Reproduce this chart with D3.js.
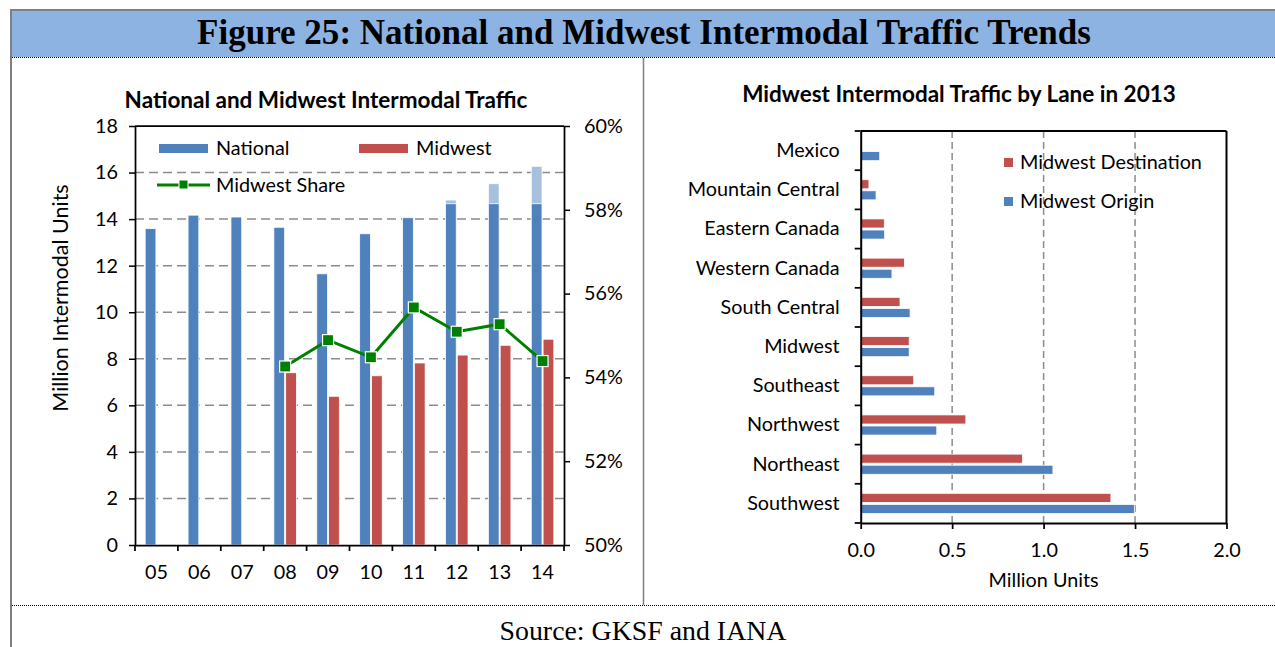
<!DOCTYPE html>
<html>
<head>
<meta charset="utf-8">
<script src="https://cdn.jsdelivr.net/npm/d3@7"></script>
<style>
  body { margin: 0; background: #fff; }
  svg { display: block; }
  .lbl { font-family: Lato, "Open Sans", sans-serif; font-size: 19.8px; fill: #000; }
  .ttl { font-family: Lato, "Open Sans", sans-serif; font-size: 22.5px; font-weight: bold; fill: #000; }
</style>
</head>
<body>
<div id="chart"></div>
<script>
// ---- data ----
var years = ["05", "06", "07", "08", "09", "10", "11", "12", "13", "14"];
var national = [13.59, 14.17, 14.09, 13.65, 11.65, 13.37, 14.06, 14.82, 15.52, 16.27];
var nationalSolid = [13.59, 14.17, 14.09, 13.65, 11.65, 13.37, 14.06, 14.66, 14.66, 14.66];
var midwest = [null, null, null, 7.40, 6.39, 7.27, 7.82, 8.16, 8.58, 8.84];
var midwestShare = [null, null, null, 54.26, 54.89, 54.48, 55.67, 55.09, 55.27, 54.39];
var leftTicks = [0, 2, 4, 6, 8, 10, 12, 14, 16, 18];
var shareTicks = [50, 52, 54, 56, 58, 60];

var lanes = ["Mexico", "Mountain Central", "Eastern Canada", "Western Canada", "South Central",
  "Midwest", "Southeast", "Northwest", "Northeast", "Southwest"];
var destination = [0, 0.045, 0.129, 0.239, 0.215, 0.265, 0.29, 0.575, 0.885, 1.368];
var origin = [0.104, 0.084, 0.131, 0.171, 0.27, 0.265, 0.405, 0.416, 1.051, 1.496];
var laneTicks = [0, 0.5, 1.0, 1.5, 2.0];

var blue = "#4f81bd", red = "#c0504d", paleBlue = "#a7c0de", green = "#008000";

var svgWidth = 1275, svgHeight = 647;
var svg = d3.select("#chart").append("svg")
  .attr("width", svgWidth)
  .attr("height", svgHeight);

// ---- page frame ----
svg.append("rect").attr("x", 11).attr("y", 10).attr("width", 1264).attr("height", 47).attr("fill", "#8db3e2");
svg.append("line").attr("x1", 10).attr("x2", 1275).attr("y1", 10).attr("y2", 10).attr("stroke", "#808080").attr("stroke-width", 2);
svg.append("line").attr("x1", 11).attr("x2", 11).attr("y1", 9).attr("y2", 647).attr("stroke", "#808080").attr("stroke-width", 2);
svg.append("line").attr("x1", 12).attr("x2", 1275).attr("y1", 57.5).attr("y2", 57.5).attr("stroke", "#000").attr("stroke-dasharray", "1,1");
svg.append("line").attr("x1", 12).attr("x2", 1275).attr("y1", 605.5).attr("y2", 605.5).attr("stroke", "#000").attr("stroke-dasharray", "1,1");
svg.append("line").attr("x1", 643.5).attr("x2", 643.5).attr("y1", 58).attr("y2", 605).attr("stroke", "#808080").attr("stroke-width", 1.5);

function fitText(sel, target) {
  var len = sel.node().getComputedTextLength();
  var fs = parseFloat(sel.style("font-size"));
  sel.style("font-size", (fs * target / len) + "px");
}

var header = svg.append("text")
  .attr("x", 644).attr("y", 44).attr("text-anchor", "middle")
  .style("font-family", "'Liberation Serif', 'DejaVu Serif', serif")
  .style("font-weight", "bold").style("font-size", "30px")
  .text("Figure 25: National and Midwest Intermodal Traffic Trends");
fitText(header, 894);

var source = svg.append("text")
  .attr("x", 643).attr("y", 640).attr("text-anchor", "middle")
  .style("font-family", "'Liberation Serif', 'DejaVu Serif', serif")
  .style("font-size", "26px")
  .text("Source: GKSF and IANA");
fitText(source, 287);

// =========================================
// Left chart: National and Midwest Intermodal Traffic
// =========================================
var L = { left: 135, right: 564, top: 126, bottom: 545 };

var x0 = d3.scaleBand().domain(years).range([L.left, L.right]);
var x1 = d3.scaleBand().domain(["national", "midwest"]).range([0, x0.bandwidth()])
  .paddingInner(0.09).paddingOuter(0.86);
var yL = d3.scaleLinear().domain([0, 18]).range([L.bottom, L.top]);
var yR = d3.scaleLinear().domain([50, 60]).range([L.bottom, L.top]);

var gL = svg.append("g");

// gridlines
gL.selectAll(".grid").data(leftTicks.filter(function(d) { return d > 0 && d < 18; }))
  .enter().append("line")
  .attr("x1", L.left).attr("x2", L.right)
  .attr("y1", function(d) { return yL(d); }).attr("y2", function(d) { return yL(d); })
  .attr("stroke", "#8c8c8c").attr("stroke-width", 1.5).attr("stroke-dasharray", "9,5");

// bars
var cols = gL.selectAll(".year").data(years).enter().append("g")
  .attr("transform", function(d) { return "translate(" + x0(d) + ",0)"; });

cols.append("rect")
  .attr("x", x1("national")).attr("width", x1.bandwidth())
  .attr("y", function(d, i) { return yL(national[i]); })
  .attr("height", function(d, i) { return yL(0) - yL(national[i]); })
  .attr("fill", paleBlue).attr("stroke", "#fff").attr("stroke-width", 0.8);

cols.append("rect")
  .attr("x", x1("national")).attr("width", x1.bandwidth())
  .attr("y", function(d, i) { return yL(nationalSolid[i]); })
  .attr("height", function(d, i) { return yL(0) - yL(nationalSolid[i]); })
  .attr("fill", blue).attr("stroke", "#fff").attr("stroke-width", 0.8);

cols.filter(function(d, i) { return midwest[i] != null; }).append("rect")
  .attr("x", x1("midwest")).attr("width", x1.bandwidth())
  .attr("y", function(d) { return yL(midwest[years.indexOf(d)]); })
  .attr("height", function(d) { return yL(0) - yL(midwest[years.indexOf(d)]); })
  .attr("fill", red).attr("stroke", "#fff").attr("stroke-width", 0.8);

// frame + axes
gL.append("line").attr("x1", L.left).attr("x2", L.right).attr("y1", L.top).attr("y2", L.top)
  .attr("stroke", "#000").attr("stroke-width", 1.75);

var leftAxis = d3.axisLeft(yL).tickValues(leftTicks).tickSize(6).tickSizeOuter(0).tickPadding(11);
var gLy = gL.append("g").attr("transform", "translate(" + L.left + ",0)").call(leftAxis);
var rightAxis = d3.axisRight(yR).tickValues(shareTicks).tickSize(6).tickSizeOuter(0).tickPadding(14)
  .tickFormat(function(d) { return d + "%"; });
var gLr = gL.append("g").attr("transform", "translate(" + L.right + ",0)").call(rightAxis);

var bottomAxis = d3.axisBottom(x0).tickSize(0).tickPadding(19.5);
var gLx = gL.append("g").attr("transform", "translate(0," + L.bottom + ")").call(bottomAxis);
gLx.selectAll(".bound").data(years.concat(["end"])).enter().append("line")
  .attr("x1", function(d) { return d === "end" ? L.right : x0(d); })
  .attr("x2", function(d) { return d === "end" ? L.right : x0(d); })
  .attr("y1", 0).attr("y2", 6).attr("stroke", "#000").attr("stroke-width", 1.75);

[gLy, gLr, gLx].forEach(function(g) {
  g.select(".domain").attr("stroke", "#000").attr("stroke-width", 1.75);
  g.selectAll(".tick line").attr("stroke", "#000").attr("stroke-width", 1.5);
  g.selectAll("text").attr("class", "lbl").attr("fill", "#000");
});

// share line
var shareIdx = d3.range(years.length).filter(function(i) { return midwestShare[i] != null; });
var line = d3.line()
  .x(function(i) { return x0(years[i]) + x0.bandwidth() / 2; })
  .y(function(i) { return yR(midwestShare[i]); });
gL.append("path").datum(shareIdx).attr("d", line)
  .attr("fill", "none").attr("stroke", green).attr("stroke-width", 3);
gL.selectAll(".mk").data(shareIdx).enter().append("rect")
  .attr("x", function(i) { return x0(years[i]) + x0.bandwidth() / 2 - 5.5; })
  .attr("y", function(i) { return yR(midwestShare[i]) - 5.5; })
  .attr("width", 11).attr("height", 11)
  .attr("fill", green).attr("stroke", "#fff").attr("stroke-width", 1.2);

// titles
gL.append("text").attr("class", "ttl").attr("x", 326).attr("y", 108).attr("text-anchor", "middle")
  .text("National and Midwest Intermodal Traffic");
gL.append("text").attr("class", "lbl").attr("text-anchor", "middle")
  .style("font-size", "21.5px")
  .attr("transform", "translate(68,298) rotate(-90)")
  .text("Million Intermodal Units");

// legend
gL.append("rect").attr("x", 159).attr("y", 144).attr("width", 49).attr("height", 9).attr("fill", blue);
gL.append("text").attr("class", "lbl").attr("x", 216).attr("y", 155).text("National");
gL.append("rect").attr("x", 359).attr("y", 144).attr("width", 49).attr("height", 9).attr("fill", red);
gL.append("text").attr("class", "lbl").attr("x", 416).attr("y", 155).text("Midwest");
gL.append("line").attr("x1", 157).attr("x2", 210).attr("y1", 185).attr("y2", 185)
  .attr("stroke", green).attr("stroke-width", 3);
gL.append("rect").attr("x", 179).attr("y", 180).attr("width", 9).attr("height", 9)
  .attr("fill", green).attr("stroke", "#fff").attr("stroke-width", 1);
gL.append("text").attr("class", "lbl").attr("x", 216).attr("y", 192).text("Midwest Share");

// =========================================
// Right chart: Midwest Intermodal Traffic by Lane in 2013
// =========================================
var R = { left: 860.7, right: 1226.5, top: 131, bottom: 523 };
var yB = d3.scaleBand().domain(lanes).range([R.top, R.bottom]);
var yB1 = d3.scaleBand().domain(["dest", "orig"]).range([0, yB.bandwidth()])
  .paddingInner(0.18).paddingOuter(0.86);
var xU = d3.scaleLinear().domain([0, 2]).range([R.left, R.right]);

var gR = svg.append("g");

gR.selectAll(".vgrid").data(laneTicks.filter(function(d) { return d > 0 && d < 2; }))
  .enter().append("line")
  .attr("x1", function(d) { return xU(d); }).attr("x2", function(d) { return xU(d); })
  .attr("y1", R.top).attr("y2", R.bottom)
  .attr("stroke", "#8c8c8c").attr("stroke-width", 1.5).attr("stroke-dasharray", "7,4");

var rows = gR.selectAll(".lane").data(lanes).enter().append("g")
  .attr("transform", function(d) { return "translate(0," + yB(d) + ")"; });
rows.append("rect")
  .attr("x", xU(0)).attr("y", yB1("dest")).attr("height", yB1.bandwidth())
  .attr("width", function(d, i) { return xU(destination[i]) - xU(0); })
  .attr("fill", red).attr("stroke", "#fff").attr("stroke-width", 0.8);
rows.append("rect")
  .attr("x", xU(0)).attr("y", yB1("orig")).attr("height", yB1.bandwidth())
  .attr("width", function(d, i) { return xU(origin[i]) - xU(0); })
  .attr("fill", blue).attr("stroke", "#fff").attr("stroke-width", 0.8);

gR.append("line").attr("x1", R.left).attr("x2", R.right).attr("y1", R.top).attr("y2", R.top)
  .attr("stroke", "#000").attr("stroke-width", 2);
gR.append("line").attr("x1", R.right).attr("x2", R.right).attr("y1", R.top).attr("y2", R.bottom)
  .attr("stroke", "#000").attr("stroke-width", 2);

var laneAxis = d3.axisLeft(yB).tickSize(0).tickPadding(21);
var gRy = gR.append("g").attr("transform", "translate(" + R.left + ",0)").call(laneAxis);
gRy.selectAll(".bound").data(lanes.concat(["end"])).enter().append("line")
  .attr("y1", function(d) { return d === "end" ? R.bottom : yB(d); })
  .attr("y2", function(d) { return d === "end" ? R.bottom : yB(d); })
  .attr("x1", -6).attr("x2", 0).attr("stroke", "#000").attr("stroke-width", 1.75);

var unitAxis = d3.axisBottom(xU).tickValues(laneTicks).tickFormat(d3.format(".1f"))
  .tickSize(6).tickSizeOuter(0).tickPadding(14);
var gRx = gR.append("g").attr("transform", "translate(0," + R.bottom + ")").call(unitAxis);

[gRy, gRx].forEach(function(g) {
  g.select(".domain").attr("stroke", "#000").attr("stroke-width", 2);
  g.selectAll(".tick line").attr("stroke", "#000").attr("stroke-width", 1.75);
  g.selectAll("text").attr("class", "lbl").attr("fill", "#000");
});

gR.append("text").attr("class", "ttl").attr("x", 959).attr("y", 102).attr("text-anchor", "middle")
  .text("Midwest Intermodal Traffic by Lane in 2013");
gR.append("text").attr("class", "lbl").attr("x", xU(1)).attr("y", 587).attr("text-anchor", "middle")
  .text("Million Units");

// legend
gR.append("rect").attr("x", 1004).attr("y", 158).attr("width", 9).attr("height", 9).attr("fill", red);
gR.append("text").attr("class", "lbl").attr("x", 1020).attr("y", 169).text("Midwest Destination");
gR.append("rect").attr("x", 1004).attr("y", 197).attr("width", 9).attr("height", 9).attr("fill", blue);
gR.append("text").attr("class", "lbl").attr("x", 1020).attr("y", 207.5).text("Midwest Origin");
</script>
</body>
</html>
